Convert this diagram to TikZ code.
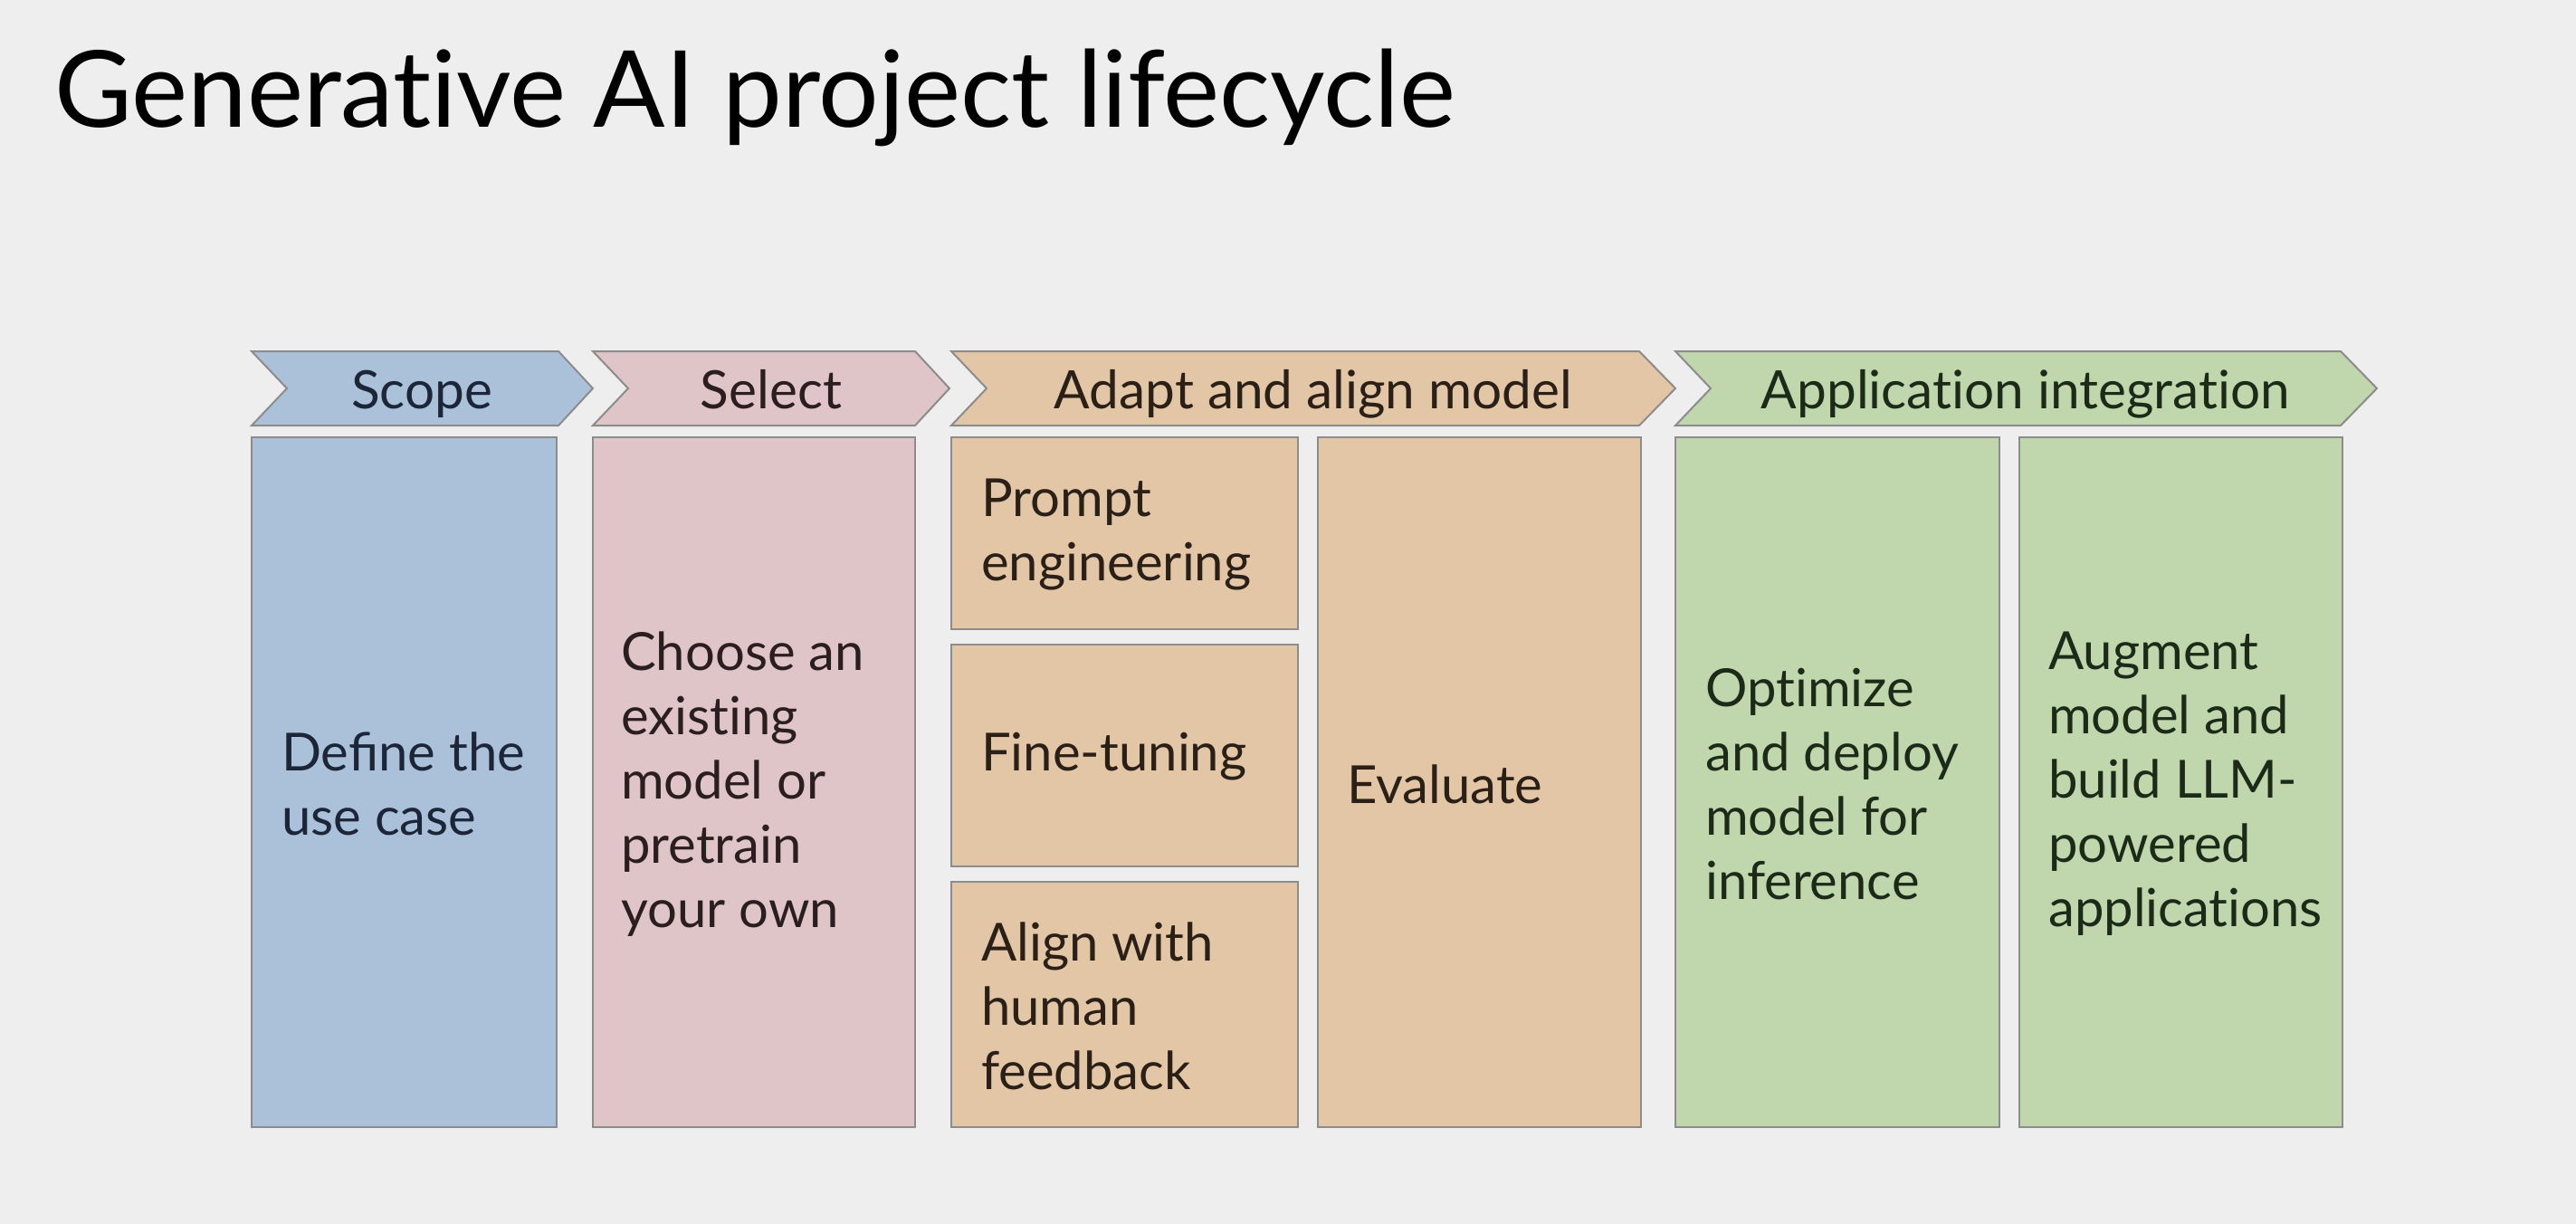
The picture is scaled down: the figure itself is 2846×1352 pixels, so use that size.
\documentclass[tikz,border=0pt]{standalone}
\usepackage{fontspec}
\setmainfont{Lato}
\newcommand{\tI}{t\kern0pt i}
\definecolor{bg}{HTML}{EEEEEE}
\definecolor{bluef}{HTML}{AAC1D9}
\definecolor{pinkf}{HTML}{DFC4C8}
\definecolor{tanf}{HTML}{E3C6A5}
\definecolor{greenf}{HTML}{C0D6AD}
\definecolor{edgec}{HTML}{8C8C8C}
\definecolor{bluet}{HTML}{1C2638}
\definecolor{pinkt}{HTML}{2A1E20}
\definecolor{tant}{HTML}{2A2018}
\definecolor{greent}{HTML}{1C2A18}
\tikzset{
  chev/.style={draw=edgec, line width=2pt, line join=miter},
  boxstyle/.style={draw=edgec, line width=2pt},
  headtxt/.style={font=\fontsize{58.5}{70}\selectfont, inner sep=0pt, anchor=base},
  bodytxt/.style={font=\fontsize{58}{71}\selectfont, inner sep=0pt, anchor=west, align=left},
}
\begin{document}
\begin{tikzpicture}[x=1pt,y=-1pt]
\useasboundingbox (0,0) rectangle (2846,1352);
\fill[bg] (0,0) rectangle (2846,1352);
% title
\node[inner sep=0pt, anchor=base west, font=\fontsize{117.5}{130}\selectfont] (title) at (60,140) {Genera\tI ve AI project lifecycle};
% chevrons: left, top-right, tip ; top 388 bottom 470 mid 429 ; notch 39
\def\ct{388}\def\cb{470}\def\cm{429}
\fill[bluef,chev] (278,\ct) -- (617,\ct) -- (655,\cm) -- (617,\cb) -- (278,\cb) -- (317,\cm) -- cycle;
\fill[pinkf,chev] (655,\ct) -- (1011,\ct) -- (1049,\cm) -- (1011,\cb) -- (655,\cb) -- (694,\cm) -- cycle;
\fill[tanf,chev] (1051,\ct) -- (1811,\ct) -- (1851,\cm) -- (1811,\cb) -- (1051,\cb) -- (1090,\cm) -- cycle;
\fill[greenf,chev] (1851,\ct) -- (2586,\ct) -- (2626,\cm) -- (2586,\cb) -- (1851,\cb) -- (1890,\cm) -- cycle;
\node[headtxt, text=bluet] (hscope) at (466,451) {Scope};
\node[headtxt, text=pinkt] (hselect) at (852,451) {Select};
\node[headtxt, text=tant] (hadapt) at (1451,451) {Adapt and align model};
\node[headtxt, text=greent] (happ) at (2238,451) {Applica\tI on integra\tI on};
% boxes
\draw[boxstyle, fill=bluef] (278,483) rectangle (615,1245);
\draw[boxstyle, fill=pinkf] (655,483) rectangle (1011,1245);
\draw[boxstyle, fill=tanf] (1051,483) rectangle (1434,695);
\draw[boxstyle, fill=tanf] (1051,712) rectangle (1434,957);
\draw[boxstyle, fill=tanf] (1051,974) rectangle (1434,1245);
\draw[boxstyle, fill=tanf] (1456,483) rectangle (1813,1245);
\draw[boxstyle, fill=greenf] (1851,483) rectangle (2209,1245);
\draw[boxstyle, fill=greenf] (2231,483) rectangle (2588,1245);
% texts
\node[bodytxt, text=bluet] (tdefine) at (311,866) {Define the\\use case};
\node[bodytxt, text=pinkt] (tchoose) at (686,866) {Choose an\\exis\tI ng\\model or\\pretrain\\your own};
\node[bodytxt, text=tant] (tprompt) at (1084,591) {Prompt\\engineering};
\node[bodytxt, text=tant] (tfine) at (1084,836) {Fine-tuning};
\node[bodytxt, text=tant] (talign) at (1084,1111) {Align with\\human\\feedback};
\node[bodytxt, text=tant] (teval) at (1488,866) {Evaluate};
\node[bodytxt, text=greent] (topt) at (1884,866) {Op\tI mize\\and deploy\\model for\\inference};
\node[bodytxt, text=greent] (taug) at (2263,866) {Augment\\model and\\build LLM-\\powered\\applica\tI ons};
\end{tikzpicture}
\end{document}
